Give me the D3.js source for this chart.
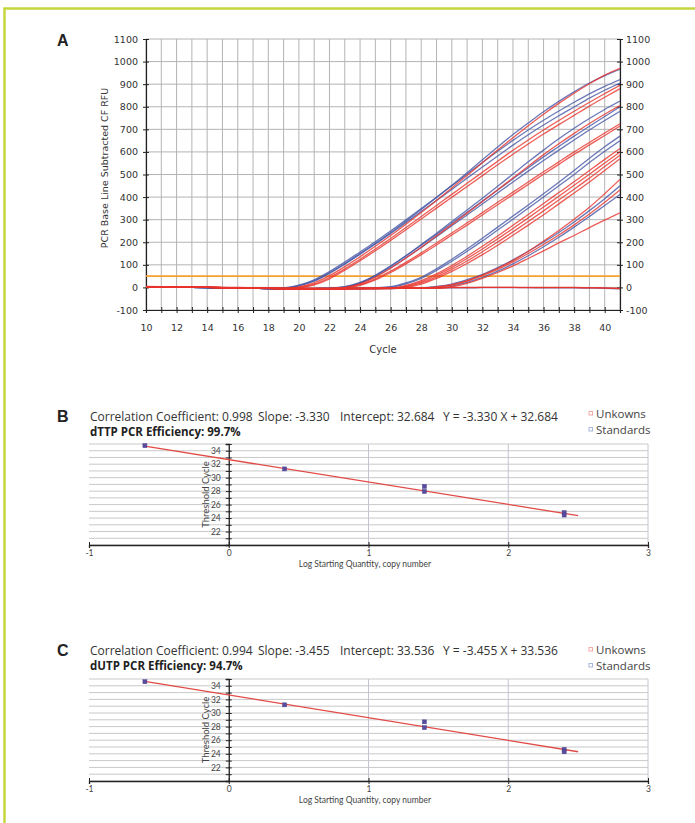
<!DOCTYPE html>
<html>
<head>
<meta charset="utf-8">
<script src="https://cdn.jsdelivr.net/npm/d3@7"></script>
<style>
  body { margin: 0; background: #fff; }
  svg { display: block; }
</style>
</head>
<body>
<svg id="fig" width="695" height="823"></svg>
<script>
// ---- panel A : amplification curves ----
var cycles = [10, 11, 12, 13, 14, 15, 16, 17, 18, 19, 20, 21, 22, 23, 24, 25,
              26, 27, 28, 29, 30, 31, 32, 33, 34, 35, 36, 37, 38, 39, 40, 41];
var cycleLabels = [10, 12, 14, 16, 18, 20, 22, 24, 26, 28, 30, 32, 34, 36, 38, 40];
var rfuTicks = [-100, 0, 100, 200, 300, 400, 500, 600, 700, 800, 900, 1000, 1100];
var threshold = 50;

// highest copy number group
var g1a = [3,2,2,1,0,-1,-2,-3,-4,-3, 8,30,65,105,150,195,243,293,345,398, 452,508,565,622,677,728,778,824,866,905,938,966];
var g1b = [4,3,2,1,0,-1,-2,-3,-5,-5, 2,20,52,92,136,182,230,280,332,385, 440,496,552,608,663,716,767,815,860,902,940,970];
var g1c = [2,2,1,0,-1,-2,-3,-4,-5,-2, 10,34,70,112,157,202,250,299,349,399, 450,502,553,603,651,697,740,781,820,857,890,920];
var g1d = [2,1,1,0,-1,-2,-3,-4,-5,-3, 7,28,62,103,147,192,239,287,336,385, 434,484,533,582,630,676,719,760,799,838,873,905];
var g1e = [3,2,2,1,0,-1,-2,-3,-4,-5, 0,15,44,82,125,170,217,265,314,363, 412,461,510,559,607,653,697,739,780,820,858,895];
var g1f = [3,3,2,1,0,-1,-2,-3,-4,-6, -2,11,38,76,118,162,208,255,303,351, 399,447,495,543,590,635,679,721,762,803,842,880];
// second group
var g2a = [2,2,1,0,-1,-2,-3,-4,-5,-6, -6,-5,-4,2,20,52,94,140,190,240, 292,343,395,448,502,556,608,658,705,748,788,825];
var g2b = [3,2,2,1,0,-1,-2,-3,-4,-5, -6,-6,-5,0,16,45,85,130,178,228, 278,329,380,432,485,537,588,636,682,726,767,805];
var g2c = [2,2,1,0,-1,-2,-3,-4,-5,-6, -6,-5,-3,3,22,54,95,140,187,235, 284,333,382,431,481,530,578,624,670,714,757,800];
var g2d = [2,1,1,0,-1,-2,-3,-4,-5,-6, -6,-5,-4,1,18,48,87,131,177,225, 273,321,369,418,467,515,562,608,653,697,739,780];
var g2e = [3,2,2,1,0,-1,-2,-3,-4,-5, -6,-6,-5,-1,12,38,72,111,153,197, 241,286,331,377,422,467,512,556,600,642,684,725];
var g2f = [3,3,2,1,0,-1,-2,-3,-4,-5, -6,-6,-6,-2,9,33,66,104,145,188, 232,276,321,366,411,456,501,545,589,631,673,715];
// third group
var g3a = [2,2,1,0,-1,-2,-3,-4,-5,-6, -7,-7,-6,-5,-4,-2, 3,20,45,82,125,170,218,267,316,365,415,466,518,572,623,670];
var g3b = [2,1,1,0,-1,-2,-3,-4,-5,-6, -7,-7,-6,-5,-4,-3, 1,16,40,75,116,160,206,254,302,351,400,450,500,553,603,650];
var g3c = [3,2,2,1,0,-1,-2,-3,-4,-5, -6,-6,-6,-5,-5,-4, -3,9,30,60,97,138,182,228,275,323,372,420,468,518,567,615];
var g3d = [3,2,2,1,0,-1,-2,-3,-4,-5, -6,-6,-6,-5,-5,-4, -4,6,25,54,89,128,170,215,261,308,356,404,452,501,551,600];
var g3e = [3,3,2,1,0,-1,-2,-3,-4,-5, -6,-6,-6,-6,-5,-5, -4,3,20,47,80,117,158,201,246,292,339,387,435,484,535,585];
var g3f = [3,3,2,1,0,-1,-2,-3,-4,-5, -6,-6,-6,-6,-5,-5, -5,0,15,40,71,106,145,187,231,276,322,370,418,467,518,570];
// lowest copy number group
var g4a = [3,2,2,1,0,-1,-2,-3,-4,-5, -6,-6,-6,-6,-5,-5,-4,-4,-3, 2,12,30,55,85,120,160,205,252,302,355,415,478];
var g4b = [2,2,1,0,-1,-2,-3,-4,-5,-6, -6,-7,-7,-6,-6,-5,-4,-3,-2, 4,15,34,58,88,122,160,200,243,290,340,393,450];
var g4c = [3,2,2,1,0,-1,-2,-3,-4,-5, -6,-6,-6,-6,-5,-5,-4,-4,-3, 0,10,28,52,80,113,150,190,232,277,325,377,432];
var g4d = [2,2,1,0,-1,-2,-3,-4,-5,-6, -6,-7,-7,-6,-6,-5,-5,-4,-3, -2,6,22,44,72,104,140,180,222,267,314,363,412];
var g4e = [3,2,2,1,0,-1,-2,-3,-4,-5, -6,-6,-6,-6,-5,-5,-5,-4,-4, -4,3,18,40,66,95,128,162,197,230,265,298,330];
// no template controls
var ntc1 = [3,2,2,1,1,0,0,-1,-2,-2, -3,-3,-3,-3,-2,-2,-2,-1,-1,-1, 0,0,0,0,0,0,0,0,0,-1,-2,-4];
var ntc2 = [2,2,1,1,0,0,-1,-1,-2,-3, -4,-4,-4,-3,-3,-2,-2,-2,-1,-1, -1,-1,0,0,0,-1,-1,-1,-1,-2,-3,-5];
var ntc3 = [2,1,1,0,0,-1,-1,-2,-3,-3, -4,-4,-4,-4,-3,-3,-2,-2,-2,-2, -2,-2,-1,-1,-1,-1,-2,-2,-2,-3,-4,-6];

var ampSeries = [g1a, g1b, g1c, g1d, g1e, g1f, g2a, g2b, g2c, g2d, g2e, g2f,
                 g3a, g3b, g3c, g3d, g3e, g3f, g4a, g4b, g4c, g4d, g4e, ntc3, ntc1, ntc2];
var ampDye = ['b', 'r', 'b', 'b', 'r', 'r', 'b', 'r', 'b', 'b', 'r', 'r',
              'b', 'b', 'r', 'r', 'r', 'r', 'r', 'b', 'r', 'b', 'r', 'b', 'r', 'r'];

// ---- panels B and C : standard curves ----
var logTicks = [-1, 0, 1, 2, 3];
var ctTicks = [22, 24, 26, 28, 30, 32, 34];
var ctGrid = [20, 21, 22, 23, 24, 25, 26, 27, 28, 29, 30, 31, 32, 33, 34, 35];
var stdLogQty = [-0.6, 0.4, 1.4, 1.4, 2.4, 2.4];
var stdCtB = [34.75, 31.3, 28.7, 27.95, 24.8, 24.45];
var stdCtC = [34.6, 31.2, 28.7, 27.85, 24.65, 24.3];
var fitX = [-0.6, 2.5];
var fitYB = [34.68, 24.36];
var fitYC = [34.65, 24.3];
var statsB = ['Correlation Coefficient: 0.998', 'Slope: -3.330', 'Intercept: 32.684', 'Y = -3.330 X + 32.684'];
var statsC = ['Correlation Coefficient: 0.994', 'Slope: -3.455', 'Intercept: 33.536', 'Y = -3.455 X + 33.536'];
var effB = 'dTTP PCR Efficiency: 99.7%';
var effC = 'dUTP PCR Efficiency: 94.7%';
var legendNames = ['Unkowns', 'Standards'];

var RED = '#e8332c';
var BLUE = '#4658a6';
var plain = function (d) { return String(d); };

var svg = d3.select('#fig');
svg.append('rect').attr('width', 695).attr('height', 823).attr('fill', '#fff');

// green frame, top and left only
svg.append('path')
    .attr('d', 'M4.5,823 L4.5,8.5 L695,8.5')
    .attr('fill', 'none')
    .attr('stroke', '#c6d63e')
    .attr('stroke-width', 2.5);

// panel letters
[['A', 46], ['B', 422], ['C', 656]].forEach(function (p) {
    svg.append('text')
        .attr('x', 57).attr('y', p[1])
        .attr('font-family', 'Liberation Sans, Arial, sans-serif')
        .attr('font-weight', 'bold')
        .attr('font-size', 16)
        .attr('fill', '#222')
        .text(p[0]);
});

function drawAmplification() {
    var x = d3.scaleLinear().domain([10, 41]).range([146, 620]);
    var y = d3.scaleLinear().domain([-100, 1100]).range([310, 39]);
    var g = svg.append('g').attr('font-family', 'DejaVu Sans, Verdana, sans-serif');

    // grid
    g.selectAll('.vgrid').data(cycles).enter().append('line')
        .attr('x1', function (d) { return x(d); })
        .attr('x2', function (d) { return x(d); })
        .attr('y1', y(1100)).attr('y2', y(-100))
        .attr('stroke', '#b4b4b4').attr('stroke-width', 1);
    g.selectAll('.hgrid').data(rfuTicks).enter().append('line')
        .attr('x1', x(10)).attr('x2', x(41))
        .attr('y1', function (d) { return y(d); })
        .attr('y2', function (d) { return y(d); })
        .attr('stroke', '#b4b4b4').attr('stroke-width', 1);

    // axes: ticks cross the axis line
    var left = g.append('g').attr('transform', 'translate(' + x(10) + ',0)')
        .call(d3.axisLeft(y).tickValues(rfuTicks).tickSize(3).tickPadding(5).tickFormat(plain));
    var right = g.append('g').attr('transform', 'translate(' + x(41) + ',0)')
        .call(d3.axisRight(y).tickValues(rfuTicks).tickSize(3).tickPadding(3).tickFormat(plain));
    var bottom = g.append('g').attr('transform', 'translate(0,' + y(-100) + ')')
        .call(d3.axisBottom(x).tickValues(cycles).tickSize(3).tickPadding(11)
            .tickFormat(function (d) { return cycleLabels.indexOf(d) >= 0 ? d : ''; }));
    left.selectAll('.tick line').attr('x1', 3);
    right.selectAll('.tick line').attr('x1', -3);
    bottom.selectAll('.tick line').attr('y1', -3);
    [left, right, bottom].forEach(function (a) {
        a.select('.domain').attr('stroke', '#222').attr('stroke-width', 1.2);
        a.selectAll('.tick line').attr('stroke', '#222');
        a.selectAll('text').attr('font-size', 9.5).attr('fill', '#333')
            .attr('font-family', 'DejaVu Sans, Verdana, sans-serif');
    });

    g.append('text')
        .attr('transform', 'translate(108,168) rotate(-90)')
        .attr('text-anchor', 'middle')
        .attr('font-size', 9.5).attr('fill', '#333')
        .text('PCR Base Line Subtracted CF RFU');
    g.append('text')
        .attr('x', 383).attr('y', 353)
        .attr('text-anchor', 'middle')
        .attr('font-size', 10).attr('fill', '#333')
        .text('Cycle');

    svg.append('clipPath').attr('id', 'ampclip').append('rect')
        .attr('x', x(10)).attr('y', y(1100))
        .attr('width', x(41) - x(10)).attr('height', y(-100) - y(1100));

    // threshold
    g.append('line')
        .attr('x1', x(10)).attr('x2', x(41))
        .attr('y1', y(threshold)).attr('y2', y(threshold))
        .attr('stroke', '#f5a031').attr('stroke-width', 1.6);

    var line = d3.line()
        .x(function (d, i) { return x(cycles[i]); })
        .y(function (d) { return y(d); })
        .curve(d3.curveMonotoneX);

    // blues underneath, reds on top
    var order = d3.range(ampSeries.length).sort(function (a, b) {
        return (ampDye[a] === 'r') - (ampDye[b] === 'r') || a - b;
    });
    g.append('g').attr('clip-path', 'url(#ampclip)')
        .selectAll('path').data(order).enter().append('path')
        .attr('d', function (i) { return line(ampSeries[i]); })
        .attr('fill', 'none')
        .attr('stroke', function (i) { return ampDye[i] === 'r' ? RED : BLUE; })
        .attr('stroke-opacity', 0.8)
        .attr('stroke-width', 1.3);
}

function drawStandardCurve(opt) {
    var x = d3.scaleLinear().domain([-1, 3]).range([89, 648]);
    var y = d3.scaleLinear().domain([20, 35]).range([opt.bottom, opt.top]);
    var g = svg.append('g').attr('font-family', '"Open Sans", Lato, sans-serif');

    // header text
    var hx = [90, 258, 340, 443];
    opt.stats.forEach(function (s, i) {
        g.append('text').attr('x', hx[i]).attr('y', opt.textY)
            .attr('font-size', 12).attr('fill', '#333').text(s);
    });
    g.append('text').attr('x', 90).attr('y', opt.textY + 14.5)
        .attr('font-size', 11.5).attr('font-weight', 'bold').attr('fill', '#222')
        .text(opt.eff);

    // legend
    var legColor = ['#f3aaa2', '#a8b6dc'];
    legendNames.forEach(function (name, i) {
        var ly = opt.legendY + i * 16;
        g.append('rect').attr('x', 589).attr('y', ly - 6.5)
            .attr('width', 3.5).attr('height', 3.5)
            .attr('fill', 'none').attr('stroke', legColor[i]).attr('stroke-width', 1);
        g.append('text').attr('x', 596).attr('y', ly)
            .attr('font-size', 11.5).attr('fill', '#444').text(name);
    });

    // grid
    g.selectAll('.hg').data(ctGrid).enter().append('line')
        .attr('x1', x(-1)).attr('x2', x(3))
        .attr('y1', function (d) { return y(d); })
        .attr('y2', function (d) { return y(d); })
        .attr('stroke', '#c9c9c9').attr('stroke-width', 1);
    g.selectAll('.vg').data([1, 2, 3]).enter().append('line')
        .attr('x1', function (d) { return x(d); })
        .attr('x2', function (d) { return x(d); })
        .attr('y1', y(35)).attr('y2', y(20))
        .attr('stroke', '#c4c4d0').attr('stroke-width', 1);

    // x axis
    var xa = g.append('g').attr('transform', 'translate(0,' + y(20) + ')')
        .call(d3.axisBottom(x).tickValues(logTicks).tickSize(3).tickPadding(2).tickFormat(plain));
    xa.selectAll('.tick line').attr('y1', -3);
    // y axis sits at x = 0
    var ya = g.append('g').attr('transform', 'translate(' + x(0) + ',0)')
        .call(d3.axisLeft(y).tickValues(ctGrid).tickSize(3).tickPadding(5)
            .tickFormat(function (d) { return ctTicks.indexOf(d) >= 0 ? d : ''; }));
    ya.selectAll('.tick line').attr('x1', 3);
    [xa, ya].forEach(function (a) {
        a.select('.domain').attr('stroke', '#222').attr('stroke-width', 1.3);
        a.selectAll('.tick line').attr('stroke', '#222');
        a.selectAll('text').attr('font-size', 8.5).attr('fill', '#444')
            .attr('font-family', 'Lato, sans-serif');
    });

    g.append('text')
        .attr('transform', 'translate(209,' + (y(27.5)) + ') rotate(-90)')
        .attr('text-anchor', 'middle')
        .attr('font-family', 'Lato, sans-serif')
        .attr('font-size', 9.5).attr('fill', '#444')
        .text('Threshold Cycle');
    g.append('text')
        .attr('x', 365).attr('y', y(20) + 22)
        .attr('text-anchor', 'middle')
        .attr('font-family', 'Lato, sans-serif')
        .attr('font-size', 8.5).attr('fill', '#444')
        .text('Log Starting Quantity, copy number');

    // regression line
    var fit = d3.line()
        .x(function (d, i) { return x(fitX[i]); })
        .y(function (d) { return y(d); });
    g.append('path').attr('d', fit(opt.fitY))
        .attr('fill', 'none').attr('stroke', '#e24a45').attr('stroke-width', 1.3);

    // standards
    g.selectAll('.pt').data(opt.ct).enter().append('rect')
        .attr('x', function (d, i) { return x(stdLogQty[i]) - 2; })
        .attr('y', function (d) { return y(d) - 2; })
        .attr('width', 4).attr('height', 4)
        .attr('fill', '#5a4b9c').attr('stroke', '#4a4490').attr('stroke-width', 0.5);
}

drawAmplification();
drawStandardCurve({ top: 444, bottom: 545, textY: 421, legendY: 418,
    stats: statsB, eff: effB, ct: stdCtB, fitY: fitYB });
drawStandardCurve({ top: 679, bottom: 781, textY: 655, legendY: 654,
    stats: statsC, eff: effC, ct: stdCtC, fitY: fitYC });
</script>
</body>
</html>
